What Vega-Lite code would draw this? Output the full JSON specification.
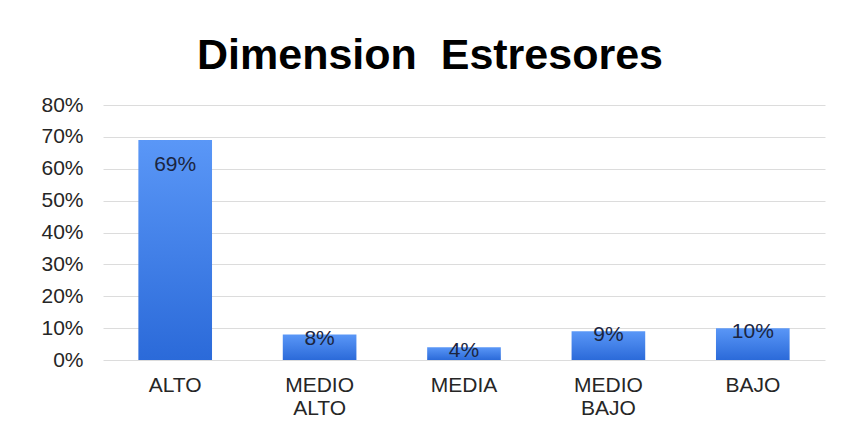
{
  "$schema": "https://vega.github.io/schema/vega-lite/v6.json",
  "width": 722,
  "height": 255,
  "autosize": {"type": "none"},
  "padding": {"left": 103, "top": 105, "right": 21, "bottom": 70},
  "background": "white",
  "title": {
    "text": "Dimension\u00a0 Estresores",
    "font": "Liberation Sans",
    "fontSize": 43,
    "fontWeight": "bold",
    "color": "#000000",
    "anchor": "middle",
    "dx": -34,
    "offset": 16
  },
  "config": {
    "view": {"stroke": null},
    "font": "Liberation Sans"
  },
  "data": {
    "values": [
      {"category": "ALTO", "value": 0.69},
      {"category": "MEDIO ALTO", "value": 0.08},
      {"category": "MEDIA", "value": 0.04},
      {"category": "MEDIO BAJO", "value": 0.09},
      {"category": "BAJO", "value": 0.10}
    ]
  },
  "encoding": {
    "x": {
      "field": "category",
      "type": "nominal",
      "sort": null,
      "scale": {"paddingInner": 0.49, "paddingOuter": 0.245},
      "axis": {
        "title": null,
        "labelAngle": 0,
        "labelExpr": "split(datum.label, ' ')",
        "labelFont": "Liberation Sans",
        "labelFontSize": 21,
        "labelColor": "#262626",
        "labelPadding": 14,
        "labelLineHeight": 23,
        "ticks": false,
        "domain": false
      }
    },
    "y": {
      "field": "value",
      "type": "quantitative",
      "scale": {"domain": [0, 0.8]},
      "axis": {
        "title": null,
        "format": ".0%",
        "values": [0, 0.1, 0.2, 0.3, 0.4, 0.5, 0.6, 0.7, 0.8],
        "labelOverlap": false,
        "labelFont": "Liberation Sans",
        "labelFontSize": 21,
        "labelColor": "#262626",
        "labelPadding": 20,
        "ticks": false,
        "domain": false,
        "grid": true,
        "gridColor": "#dcdcdc",
        "gridWidth": 1
      }
    }
  },
  "layer": [
    {
      "mark": {
        "type": "bar",
        "color": {
          "gradient": "linear",
          "x1": 0, "y1": 0, "x2": 0, "y2": 1,
          "stops": [
            {"offset": 0, "color": "#5a97f7"},
            {"offset": 1, "color": "#2b6ad9"}
          ]
        }
      }
    },
    {
      "transform": [{"filter": "datum.value > 0.2"}],
      "mark": {"type": "text", "baseline": "middle", "dy": 25, "fontSize": 21, "color": "#1b2540", "font": "Liberation Sans"},
      "encoding": {"text": {"field": "value", "type": "quantitative", "format": ".0%"}}
    },
    {
      "transform": [{"filter": "datum.value <= 0.2"}],
      "mark": {"type": "text", "baseline": "middle", "dy": 4, "fontSize": 21, "color": "#1b2540", "font": "Liberation Sans"},
      "encoding": {"text": {"field": "value", "type": "quantitative", "format": ".0%"}}
    }
  ]
}
